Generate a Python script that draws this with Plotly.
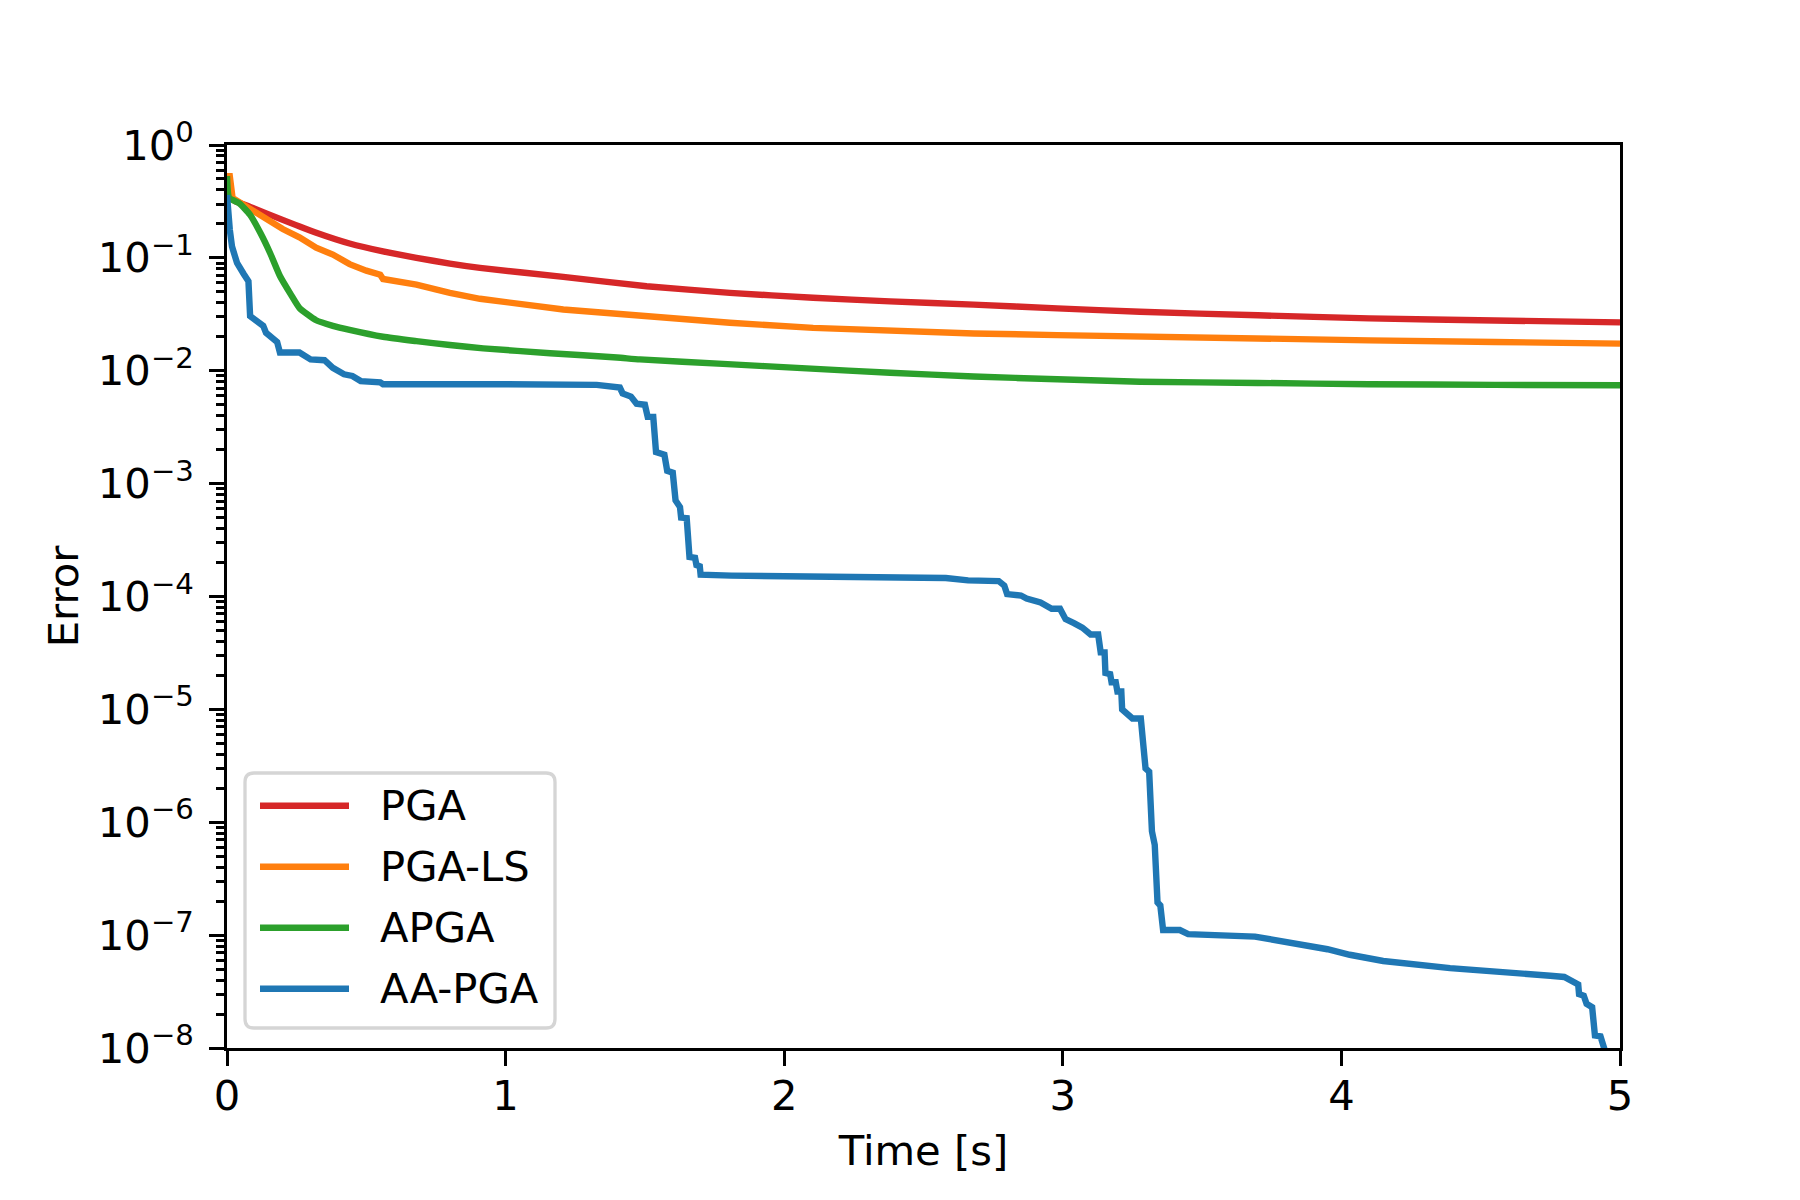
import plotly.graph_objects as go

# Error vs. time for the four solvers
pga_t = [0.0, 0.02, 0.083, 0.202, 0.323, 0.44, 0.56, 0.68, 0.80, 0.908, 1.207, 1.506,
         1.805, 2.104, 2.38, 2.68, 2.98, 3.277, 3.7, 4.10, 4.55, 5.0]
pga_err = [0.53, 0.33, 0.283, 0.216, 0.166, 0.134, 0.114, 0.100, 0.089, 0.0815, 0.0679,
           0.0561, 0.049, 0.0443, 0.0412, 0.0385, 0.0357, 0.0333, 0.031, 0.0291, 0.0279,
           0.0268]

pgals_t = [0.0, 0.01, 0.02, 0.083, 0.142, 0.2, 0.26, 0.32, 0.38, 0.44, 0.5, 0.55, 0.56,
           0.68, 0.80, 0.908, 1.207, 1.506, 1.805, 2.104, 2.38, 2.68, 2.98, 3.277, 3.7,
           4.10, 4.55, 5.0]
pgals_err = [0.53, 0.53, 0.34, 0.27, 0.222, 0.18, 0.152, 0.123, 0.107, 0.088, 0.077, 0.071,
             0.065, 0.058, 0.049, 0.0434, 0.0349, 0.0301, 0.0266, 0.024, 0.0225, 0.0214,
             0.0207, 0.020, 0.0193, 0.0186, 0.018, 0.0174]

apga_t = [0.0, 0.008, 0.044, 0.083, 0.12, 0.155, 0.19, 0.23, 0.26, 0.32, 0.38, 0.44, 0.56,
          0.68, 0.80, 0.92, 1.16, 1.40, 1.482, 1.78, 2.08, 2.38, 2.68, 2.98, 3.277, 3.7,
          4.10, 4.55, 5.0]
apga_err = [0.53, 0.34, 0.305, 0.24, 0.166, 0.11, 0.069, 0.047, 0.036, 0.028, 0.025, 0.023,
            0.020, 0.0183, 0.0169, 0.0158, 0.0143, 0.0131, 0.0126, 0.0115, 0.0105, 0.0096,
            0.0089, 0.0084, 0.0080, 0.0078, 0.0076, 0.0075, 0.00745]

aapga_t = [0.0, 0.003, 0.01, 0.018, 0.036, 0.06, 0.077, 0.083, 0.107, 0.13, 0.14, 0.165,
           0.18, 0.19, 0.26, 0.30, 0.35, 0.38, 0.42, 0.45, 0.48, 0.55, 0.56, 1.0, 1.327,
           1.41, 1.42, 1.45, 1.47, 1.50, 1.51, 1.53, 1.54, 1.57, 1.58, 1.60, 1.61, 1.626,
           1.63, 1.65, 1.66, 1.68, 1.685, 1.697, 1.70, 1.81, 2.10, 2.58, 2.66, 2.77, 2.79,
           2.80, 2.85, 2.87, 2.92, 2.94, 2.96, 2.99, 3.01, 3.04, 3.07, 3.10, 3.127, 3.136,
           3.15, 3.153, 3.17, 3.175, 3.19, 3.196, 3.21, 3.213, 3.25, 3.28, 3.29, 3.297,
           3.31, 3.32, 3.33, 3.34, 3.35, 3.36, 3.42, 3.45, 3.69, 3.85, 3.95, 4.03, 4.15,
           4.39, 4.63, 4.75, 4.80, 4.83, 4.85, 4.853, 4.87, 4.88, 4.90, 4.91, 4.93, 4.955]
aapga_err = [0.36, 0.25, 0.178, 0.126, 0.090, 0.072, 0.062, 0.0305, 0.0275, 0.025, 0.0217,
             0.019, 0.018, 0.0145, 0.0145, 0.0126, 0.0124, 0.0106, 0.0093, 0.0090, 0.0081,
             0.0079, 0.0076, 0.0076, 0.0075, 0.0071, 0.0063, 0.0059, 0.0051, 0.0050, 0.0039,
             0.0039, 0.0019, 0.0018, 0.0013, 0.00125, 7.1e-4, 6.2e-4, 5.0e-4, 4.95e-4,
             2.24e-4, 2.2e-4, 1.9e-4, 1.85e-4, 1.56e-4, 1.53e-4, 1.49e-4, 1.46e-4, 1.39e-4,
             1.37e-4, 1.25e-4, 1.05e-4, 1.02e-4, 9.6e-5, 8.85e-5, 8.3e-5, 7.8e-5, 7.8e-5,
             6.3e-5, 5.8e-5, 5.3e-5, 4.6e-5, 4.6e-5, 3.2e-5, 3.2e-5, 2.1e-5, 2.05e-5,
             1.74e-5, 1.74e-5, 1.44e-5, 1.44e-5, 1.0e-5, 8.3e-6, 8.3e-6, 4.0e-6, 3.0e-6,
             2.8e-6, 8.3e-7, 6.3e-7, 1.95e-7, 1.83e-7, 1.11e-7, 1.11e-7, 1.02e-7, 9.7e-8,
             8.3e-8, 7.5e-8, 6.7e-8, 5.9e-8, 5.1e-8, 4.7e-8, 4.37e-8, 4.26e-8, 3.95e-8,
             3.65e-8, 3.0e-8, 2.9e-8, 2.46e-8, 2.3e-8, 1.29e-8, 1.27e-8, 8e-9]

names = ["PGA", "PGA-LS", "APGA", "AA-PGA"]
colors = ["#d62728", "#ff7f0e", "#2ca02c", "#1f77b4"]
shapes_ = ["spline", "linear", "spline", "linear"]

x_ticks = [0, 1, 2, 3, 4, 5]
y_exps = [0, -1, -2, -3, -4, -5, -6, -7, -8]

series = [(pga_t, pga_err), (pgals_t, pgals_err), (apga_t, apga_err), (aapga_t, aapga_err)]

# figure geometry (px); the page body adds an 8px offset, so margins are shifted by it
W, H = 1800, 1200
ML, MR, MT, MB = 219, 188, 137, 160
OFF = 8
PW, PH = W - ML - MR, H - MT - MB
FONT = 41.7
LW = 6.4


def fx(px):
    # screen x (px) -> paper fraction
    return (px - OFF - ML) / PW


def fy(py):
    # screen y (px) -> paper fraction
    return (H - MB - (py - OFF)) / PH


fig = go.Figure()
for (t, err), name, c, shp in zip(series, names, colors, shapes_):
    line = dict(color=c, width=LW, shape=shp)
    if shp == "spline":
        line["smoothing"] = 0.5
    fig.add_trace(go.Scatter(x=t, y=err, mode="lines", name=name, line=line))

y_vals = [10.0 ** e for e in y_exps]
y_text = ["10<sup>%s</sup>" % (str(e).replace("-", "\u2212")) for e in y_exps]
minor_vals = [m * 10.0 ** e for e in y_exps[1:] for m in range(2, 10)]

axis_common = dict(showline=True, linecolor="black", linewidth=3.3, mirror=True,
                   ticks="outside", ticklen=14.6, tickwidth=3.3, tickcolor="black",
                   showgrid=False, zeroline=False,
                   tickfont=dict(family="DejaVu Sans", size=FONT, color="black"))

fig.update_xaxes(range=[0, 5], tickvals=x_ticks, ticktext=[str(v) for v in x_ticks],
                 ticklabelstandoff=-6,
                 title=dict(text="Time [s]", standoff=18,
                            font=dict(family="DejaVu Sans", size=FONT, color="black")),
                 **axis_common)
fig.update_yaxes(type="log", range=[-8, 0], tickvals=y_vals, ticktext=y_text,
                 ticklabelstandoff=7,
                 minor=dict(tickvals=minor_vals, ticks="outside", ticklen=8.3,
                            tickwidth=2.5, tickcolor="black", showgrid=False),
                 title=dict(text="Error", standoff=7,
                            font=dict(family="DejaVu Sans", size=FONT, color="black")),
                 **axis_common)

# legend drawn like matplotlib's: rounded frame, long handles
bx0, bx1, by0, by1 = fx(245), fx(555), fy(1028), fy(773)
rx, ry = 9 / PW, 9 / PH
frame = ("M %f,%f L %f,%f Q %f,%f %f,%f L %f,%f Q %f,%f %f,%f L %f,%f Q %f,%f %f,%f "
         "L %f,%f Q %f,%f %f,%f Z" % (
             bx0 + rx, by1, bx1 - rx, by1, bx1, by1, bx1, by1 - ry,
             bx1, by0 + ry, bx1, by0, bx1 - rx, by0,
             bx0 + rx, by0, bx0, by0, bx0, by0 + ry,
             bx0, by1 - ry, bx0, by1, bx0 + rx, by1))
shapes = [dict(type="path", xref="paper", yref="paper", path=frame,
               fillcolor="white", line=dict(color="#d5d5d5", width=3.3), layer="above")]
annotations = []
for i, (name, c) in enumerate(zip(names, colors)):
    yc = fy(805.7 + 61 * i)
    shapes.append(dict(type="line", xref="paper", yref="paper", x0=fx(260), x1=fx(349),
                       y0=yc, y1=yc, line=dict(color=c, width=LW), layer="above"))
    annotations.append(dict(xref="paper", yref="paper", x=fx(378), y=yc, text=name,
                            showarrow=False, xanchor="left", yanchor="middle",
                            font=dict(family="DejaVu Sans", size=FONT, color="black")))

fig.update_layout(width=W, height=H, margin=dict(l=ML, r=MR, t=MT, b=MB, autoexpand=False),
                  paper_bgcolor="white", plot_bgcolor="white", showlegend=False,
                  font=dict(family="DejaVu Sans", size=FONT, color="black"),
                  shapes=shapes, annotations=annotations)

fig.write_html("out.html")
